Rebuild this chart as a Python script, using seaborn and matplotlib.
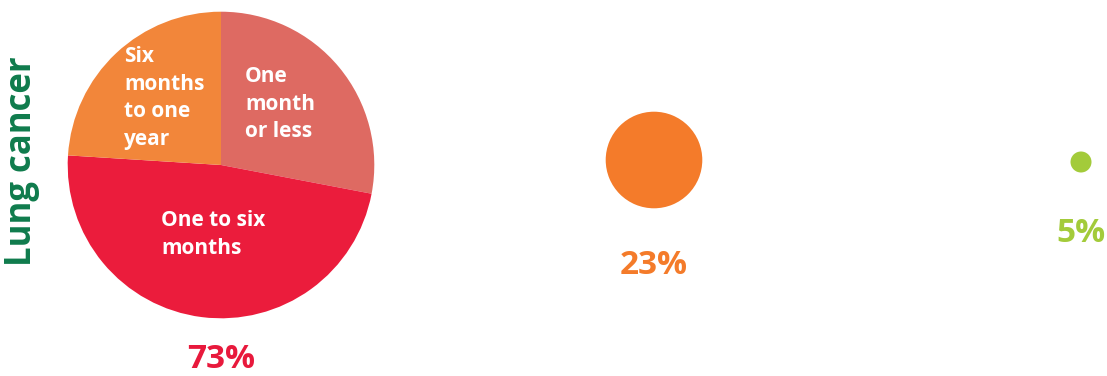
import matplotlib
matplotlib.use("Agg")
import matplotlib.pyplot as plt
import seaborn as sns

# share of patients per circle (radius drawn proportional to value)
totals = [73, 23, 5]
total_labels = ["73%", "23%", "5%"]
total_colors = ["#E8193C", "#F47B2A", "#A3CB3A"]

# breakdown of the big circle
segments = ["One\nmonth\nor less", "One to six\nmonths", "Six\nmonths\nto one\nyear"]
shares = [28, 48, 24]
segment_colors = ["#DE6A62", "#EB1C3C", "#F2863A"]

row_label = "Lung cancer"

sns.set_theme(style="white")
plt.rcParams["font.family"] = ["Open Sans", "DejaVu Sans"]

fig = plt.figure(figsize=(11.07, 3.76), dpi=100)
ax = fig.add_axes([0, 0, 1, 1])

# layout in pixel coordinates
centers = [(221, 165), (654, 160), (1081, 162)]
scale = 2.1
label_y = [360, 265, 233]
seg_text_xy = [(245, 66), (161, 210), (124, 46)]

# big pie
r0 = totals[0] * scale
ax.pie(shares, colors=segment_colors, startangle=90, counterclock=False,
       center=(centers[0][0], -centers[0][1]), radius=r0,
       wedgeprops=dict(linewidth=0))
for txt, (x, y) in zip(segments, seg_text_xy):
    ax.text(x, -y, txt, color="white", fontsize=15, fontweight="bold",
            ha="left", va="top", linespacing=1.42)

# single circles
for val, (cx, cy), col in zip(totals[1:], centers[1:], total_colors[1:]):
    ax.pie([1], colors=[col], center=(cx, -cy), radius=val * scale,
           wedgeprops=dict(linewidth=0))

for lab, (cx, cy), ly, col in zip(total_labels, centers, label_y, total_colors):
    ax.text(cx, -ly, lab, color=col, fontsize=24, fontweight="bold",
            ha="center", va="center")

ax.text(22, -161, row_label, color="#0F7B4C", fontsize=25, fontweight="bold",
        rotation=90, ha="center", va="center")

ax.set_xlim(0, 1107)
ax.set_ylim(-376, 0)
ax.set_aspect("equal")
ax.axis("off")

fig.savefig("out.png", dpi=100)
